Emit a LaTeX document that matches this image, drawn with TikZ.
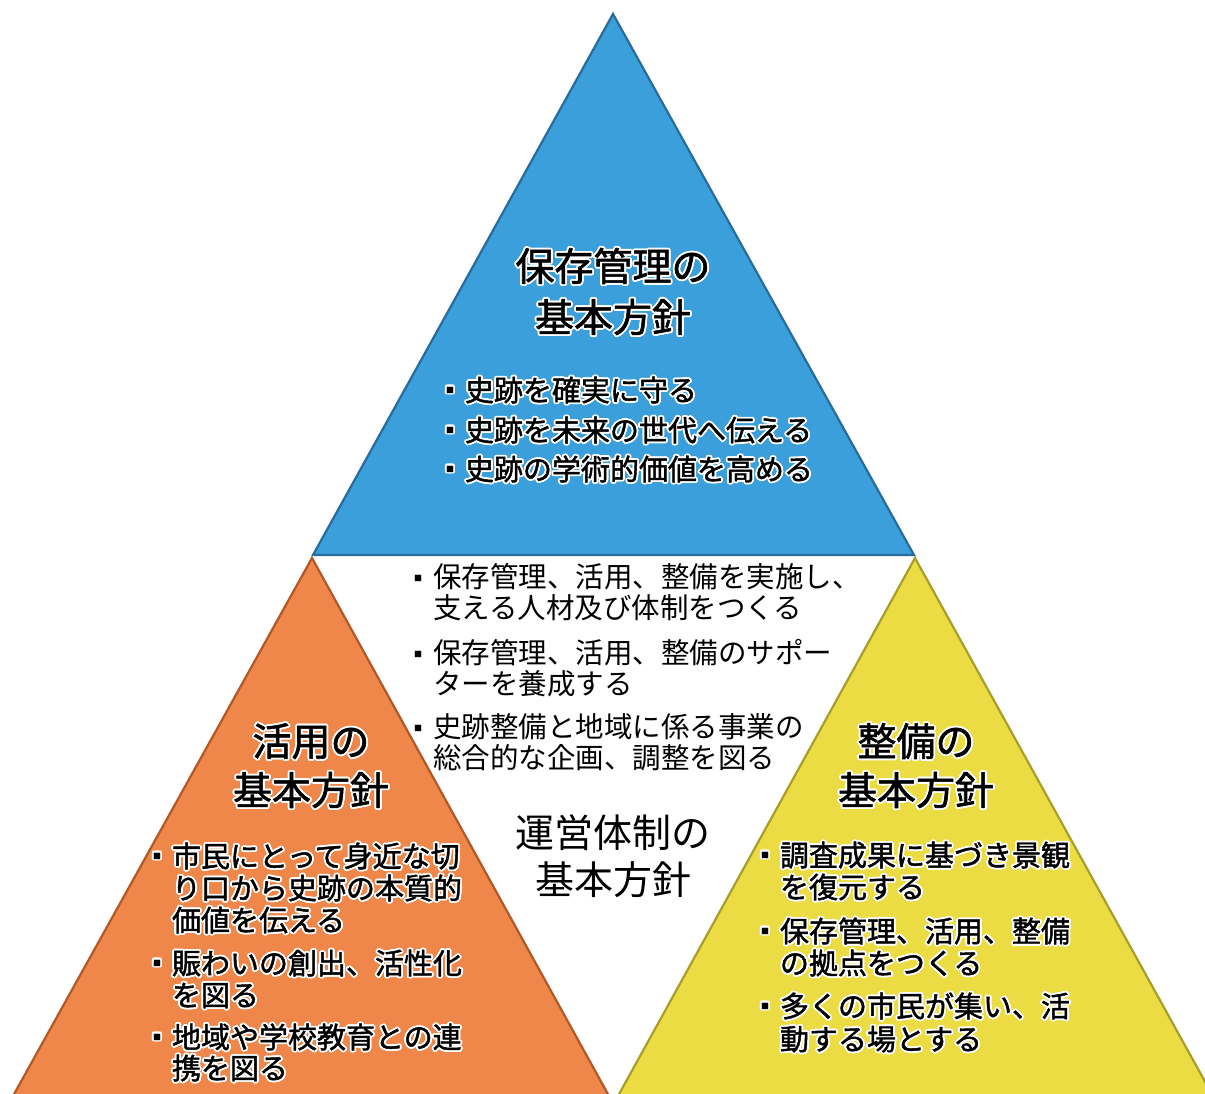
\documentclass[tikz,border=0pt]{standalone}
\usepackage{fontspec}
\setmainfont{Noto Sans CJK JP}
\newfontfamily\embf{Noto Sans CJK JP}[RawFeature={embolden=1.5}]
\usepackage[copies]{contour}
\contourlength{1.8pt}
\contournumber{16}
\definecolor{bluefill}{RGB}{58,159,219}
\definecolor{blueedge}{RGB}{40,108,155}
\definecolor{orangefill}{RGB}{239,134,74}
\definecolor{orangeedge}{RGB}{178,88,38}
\definecolor{yellowfill}{RGB}{236,220,68}
\definecolor{yellowedge}{RGB}{168,158,40}
\newcounter{tn}
\tikzset{txt/.style={inner sep=0pt,outer sep=0pt,text=black},
  tri/.style={line width=2.2pt,line join=miter},
  bul/.style={txt,anchor=center,font=\fontsize{8}{8}\selectfont}}
% outlined text (coloured regions)
\newcommand\otxt[1]{\embf\contour{white}{#1}}
% text line: x (left), y (visual centre), size, text
\newcommand\txtline[4]{\stepcounter{tn}%
  \node[txt,anchor=base west,font=\fontsize{#3}{#3}\selectfont] (t\arabic{tn}) at (#1,{#2+0.38*#3}) {#4};}
% centred heading line
\newcommand\headline[3]{\stepcounter{tn}%
  \node[txt,anchor=base,font=\fontsize{39}{39}\selectfont] (t\arabic{tn}) at (#1,{#2+0.38*39}) {#3};}
\begin{document}
\begin{tikzpicture}[x=1pt,y=-1pt]
\useasboundingbox (0,0) rectangle (1205,1093);
\clip (0,0) rectangle (1205,1093);
\fill[white] (0,0) rectangle (1205,1093);
% triangles
\draw[tri,fill=bluefill,draw=blueedge] (613,14) -- (914,555) -- (313,555) -- cycle;
\draw[tri,fill=orangefill,draw=orangeedge] (312,558) -- (609,1096) -- (13,1096) -- cycle;
\draw[tri,fill=yellowfill,draw=yellowedge] (915,558) -- (1213,1096) -- (618,1096) -- cycle;
% bullets (small squares drawn as text)
\foreach \bx/\by/\bw in {465/390/1,465/430/1,465/469/1,
    433/577/0,433/653/0,433/727/0,
    172/856/1,172/963/1,172/1037/1,
    780/855/1,780/931/1,780/1006/1}{
  \ifnum\bw=1
    \node[bul] (m\bx-\by) at ({\bx-15},{\by+1}) {\contour{white}{■}};
  \else
    \node[bul] (m\bx-\by) at ({\bx-15},{\by+1}) {■};
  \fi}
% blue
\headline{613}{266}{\otxt{保存管理の}}
\headline{613}{317}{\otxt{基本方針}}
\txtline{465}{390}{29}{\otxt{史跡を確実に守る}}
\txtline{465}{430}{29}{\otxt{史跡を未来の世代へ伝える}}
\txtline{465}{469}{29}{\otxt{史跡の学術的価値を高める}}
% centre
\txtline{433}{577}{28.5}{保存管理、活用、整備を実施し、}
\txtline{433}{608}{28.5}{支える人材及び体制をつくる}
\txtline{433}{653}{28.5}{保存管理、活用、整備のサポー}
\txtline{433}{684}{28.5}{ターを養成する}
\txtline{433}{727}{28.5}{史跡整備と地域に係る事業の}
\txtline{433}{758}{28.5}{総合的な企画、調整を図る}
\headline{613}{833}{運営体制の}
\headline{613}{880}{基本方針}
% orange
\headline{311}{741}{\otxt{活用の}}
\headline{311}{790}{\otxt{基本方針}}
\txtline{172}{856}{29}{\otxt{市民にとって身近な切}}
\txtline{172}{888}{29}{\otxt{り口から史跡の本質的}}
\txtline{172}{920}{29}{\otxt{価値を伝える}}
\txtline{172}{963}{29}{\otxt{賑わいの創出、活性化}}
\txtline{172}{995}{29}{\otxt{を図る}}
\txtline{172}{1037}{29}{\otxt{地域や学校教育との連}}
\txtline{172}{1068}{29}{\otxt{携を図る}}
% yellow
\headline{916}{741}{\otxt{整備の}}
\headline{916}{790}{\otxt{基本方針}}
\txtline{780}{855}{29}{\otxt{調査成果に基づき景観}}
\txtline{780}{887}{29}{\otxt{を復元する}}
\txtline{780}{931}{29}{\otxt{保存管理、活用、整備}}
\txtline{780}{963}{29}{\otxt{の拠点をつくる}}
\txtline{780}{1006}{29}{\otxt{多くの市民が集い、活}}
\txtline{780}{1039}{29}{\otxt{動する場とする}}
\end{tikzpicture}
\end{document}
